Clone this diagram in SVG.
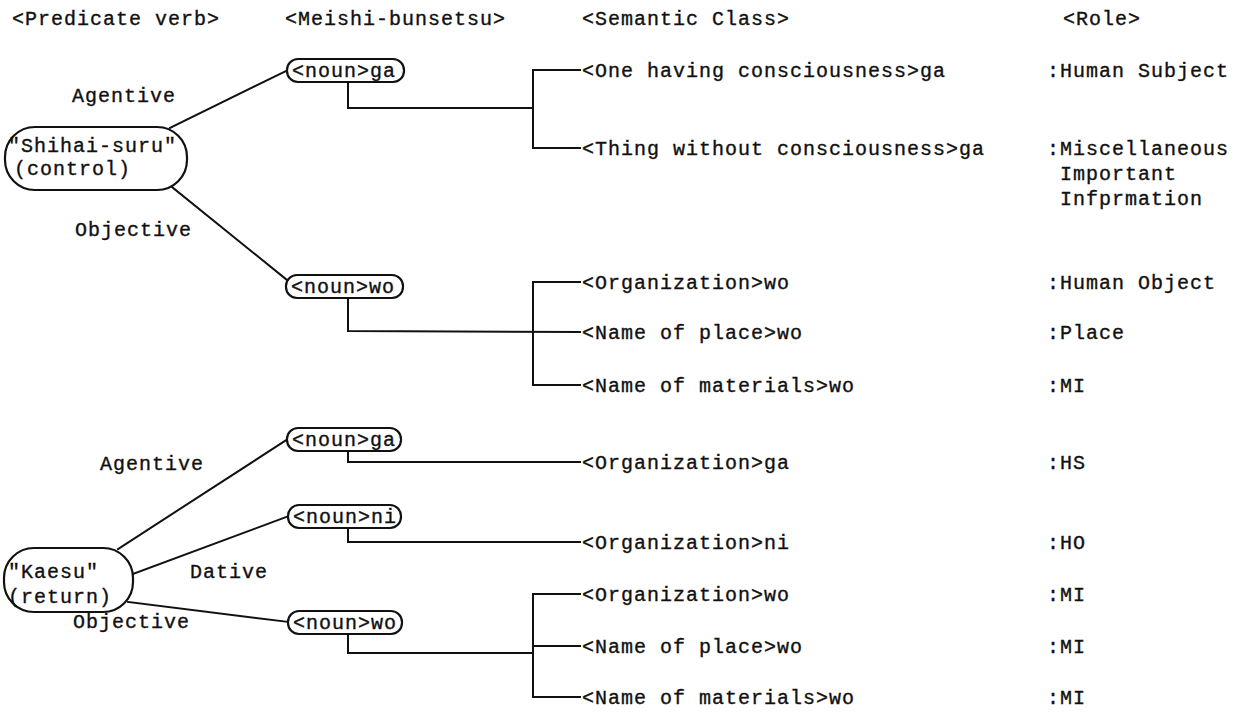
<svg xmlns="http://www.w3.org/2000/svg" width="1234" height="714" viewBox="0 0 1234 714">
  <style>
    text { font-family: "Liberation Mono", "Courier New", monospace; font-size: 20px; letter-spacing: 1px; fill: #111; stroke: #111; stroke-width: 0.35; }
    .pill { fill: #fff; stroke: #111; stroke-width: 2.2; }
    .conn { fill: none; stroke: #111; stroke-width: 2; stroke-linecap: square; }
  </style>
  <rect width="1234" height="714" fill="#fff"/>

  <!-- column headers -->
  <g id="headers">
    <text x="12" y="25">&lt;Predicate verb&gt;</text>
    <text x="285" y="25">&lt;Meishi-bunsetsu&gt;</text>
    <text x="582" y="25">&lt;Semantic Class&gt;</text>
    <text x="1063" y="25">&lt;Role&gt;</text>
  </g>

  <!-- connectors -->
  <g id="connectors" class="conn">
    <!-- predicate to case slots -->
    <line x1="170" y1="128" x2="288" y2="70"/>
    <line x1="172" y1="187" x2="287" y2="280"/>
    <line x1="118" y1="549" x2="288" y2="439"/>
    <line x1="133" y1="574" x2="289" y2="516"/>
    <line x1="128" y1="602" x2="289" y2="622"/>
    <!-- Shihai-suru / ga -->
    <polyline points="348,83 348,108 533,108"/>
    <line x1="533" y1="70" x2="533" y2="148"/>
    <line x1="533" y1="70" x2="580" y2="70"/>
    <line x1="533" y1="148" x2="580" y2="148"/>
    <!-- Shihai-suru / wo -->
    <polyline points="348,298 348,331 580,332"/>
    <line x1="533" y1="282" x2="533" y2="385"/>
    <line x1="533" y1="282" x2="580" y2="282"/>
    <line x1="533" y1="385" x2="580" y2="385"/>
    <!-- Kaesu / ga -->
    <polyline points="348,451 348,462 580,462"/>
    <!-- Kaesu / ni -->
    <polyline points="348,528 348,542 580,542"/>
    <!-- Kaesu / wo -->
    <polyline points="348,634 348,653 533,653"/>
    <line x1="533" y1="594" x2="533" y2="697"/>
    <line x1="533" y1="594" x2="580" y2="594"/>
    <line x1="533" y1="646" x2="580" y2="646"/>
    <line x1="533" y1="697" x2="580" y2="697"/>
  </g>

  <!-- case labels -->
  <g id="case-labels">
    <text x="72" y="102">Agentive</text>
    <text x="75" y="236">Objective</text>
    <text x="100" y="470">Agentive</text>
    <text x="190" y="578">Dative</text>
    <text x="73" y="628">Objective</text>
  </g>

  <!-- predicate verbs -->
  <g id="verb-shihai">
    <rect class="pill" x="5" y="127" width="182" height="63" rx="30"/>
    <text x="8" y="152">"Shihai-suru"</text>
    <text x="14" y="175">(control)</text>
  </g>
  <g id="verb-kaesu">
    <rect class="pill" x="4" y="548" width="129" height="64" rx="30"/>
    <text x="8" y="578">"Kaesu"</text>
    <text x="8" y="603">(return)</text>
  </g>

  <!-- meishi-bunsetsu -->
  <g id="np-ga-1">
    <rect class="pill" x="287" y="59" width="117" height="23" rx="11"/>
    <text x="292" y="77">&lt;noun&gt;ga</text>
  </g>
  <g id="np-wo-1">
    <rect class="pill" x="286" y="275" width="117" height="23" rx="11"/>
    <text x="291" y="293">&lt;noun&gt;wo</text>
  </g>
  <g id="np-ga-2">
    <rect class="pill" x="287" y="428" width="114" height="23" rx="11"/>
    <text x="292" y="446">&lt;noun&gt;ga</text>
  </g>
  <g id="np-ni-2">
    <rect class="pill" x="288" y="505" width="113" height="23" rx="11"/>
    <text x="293" y="523">&lt;noun&gt;ni</text>
  </g>
  <g id="np-wo-2">
    <rect class="pill" x="288" y="611" width="114" height="23" rx="11"/>
    <text x="293" y="629">&lt;noun&gt;wo</text>
  </g>

  <!-- semantic classes -->
  <g id="semantic-classes">
    <text x="582" y="77">&lt;One having consciousness&gt;ga</text>
    <text x="582" y="155">&lt;Thing without consciousness&gt;ga</text>
    <text x="582" y="289">&lt;Organization&gt;wo</text>
    <text x="582" y="339">&lt;Name of place&gt;wo</text>
    <text x="582" y="392">&lt;Name of materials&gt;wo</text>
    <text x="582" y="469">&lt;Organization&gt;ga</text>
    <text x="582" y="549">&lt;Organization&gt;ni</text>
    <text x="582" y="601">&lt;Organization&gt;wo</text>
    <text x="582" y="653">&lt;Name of place&gt;wo</text>
    <text x="582" y="704">&lt;Name of materials&gt;wo</text>
  </g>

  <!-- roles -->
  <g id="roles">
    <text x="1047" y="77">:Human Subject</text>
    <text x="1047" y="155">:Miscellaneous</text>
    <text x="1060" y="180">Important</text>
    <text x="1060" y="205">Infprmation</text>
    <text x="1047" y="289">:Human Object</text>
    <text x="1047" y="339">:Place</text>
    <text x="1047" y="392">:MI</text>
    <text x="1047" y="469">:HS</text>
    <text x="1047" y="549">:HO</text>
    <text x="1047" y="601">:MI</text>
    <text x="1047" y="653">:MI</text>
    <text x="1047" y="704">:MI</text>
  </g>
</svg>
